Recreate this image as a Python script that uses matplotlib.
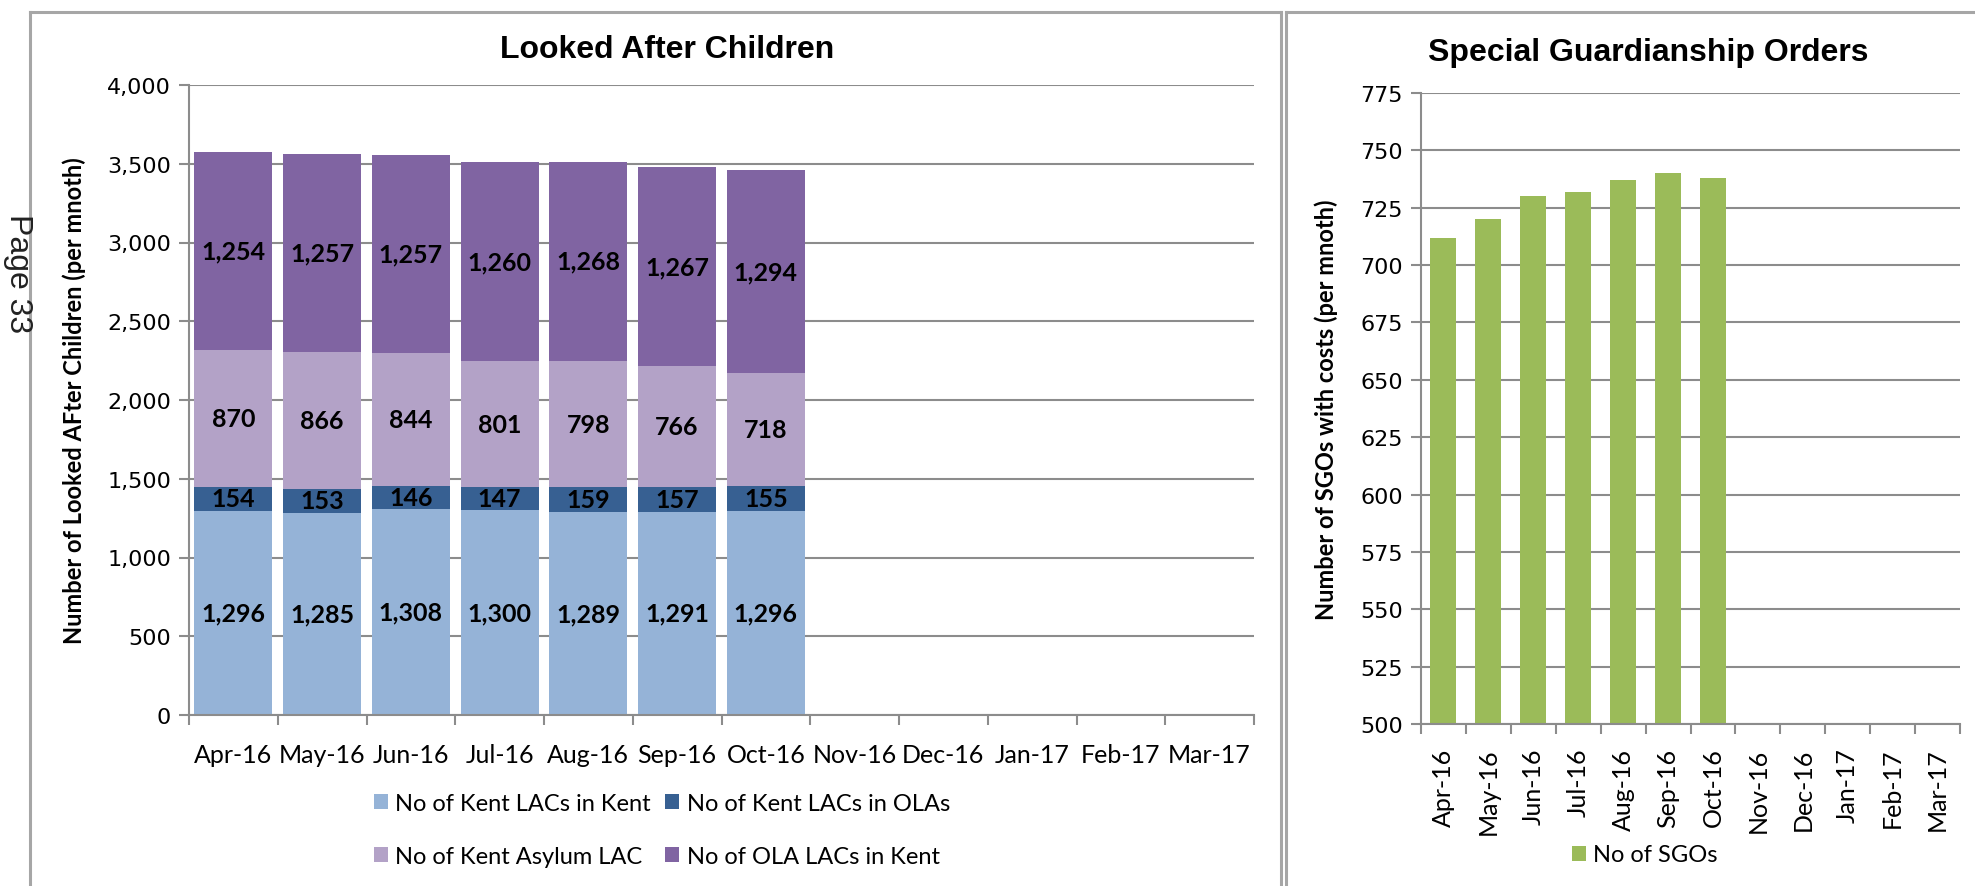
import matplotlib
matplotlib.use("Agg")
import matplotlib.pyplot as plt
from matplotlib.lines import Line2D
from matplotlib.patches import Patch
import numpy as np

# data
months = ["Apr-16", "May-16", "Jun-16", "Jul-16", "Aug-16", "Sep-16",
          "Oct-16", "Nov-16", "Dec-16", "Jan-17", "Feb-17", "Mar-17"]
kent_in_kent = [1296, 1285, 1308, 1300, 1289, 1291, 1296]
kent_in_olas = [154, 153, 146, 147, 159, 157, 155]
kent_asylum = [870, 866, 844, 801, 798, 766, 718]
ola_in_kent = [1254, 1257, 1257, 1260, 1268, 1267, 1294]
sgos = [712, 720, 730, 732, 737, 740, 738]

series_names = ["No of Kent LACs in Kent", "No of Kent LACs in OLAs",
                "No of Kent Asylum LAC", "No of OLA LACs in Kent"]
series_colors = ["#95B3D7", "#376092", "#B3A2C7", "#8064A2"]
green = "#9BBB59"
grid_c = "#8C8C8C"

plt.rcParams['font.family'] = ['Lato', 'DejaVu Sans']

W, H = 1975, 887
fig = plt.figure(figsize=(W / 100, H / 100), dpi=100)


def box(x0, y0, x1, y1):
    # pixel box (top-left origin) -> figure fraction rect
    return [x0 / W, 1 - y1 / H, (x1 - x0) / W, (y1 - y0) / H]


def style_axes(ax):
    for s in ["top", "right"]:
        ax.spines[s].set_visible(False)
    for s in ["left", "bottom"]:
        ax.spines[s].set_color(grid_c)
        ax.spines[s].set_linewidth(1.5)
    ax.yaxis.grid(True, color=grid_c, linewidth=1.5)
    ax.set_axisbelow(True)
    ax.tick_params(axis="y", color=grid_c, width=1.5, length=7, labelsize=16, pad=6)
    for lab in ax.get_yticklabels():
        lab.set_family("DejaVu Sans")
    # category boundary ticks like a spreadsheet chart
    ax.set_xticks(np.arange(-0.5, len(months)), minor=True)
    ax.tick_params(axis="x", which="minor", color=grid_c, width=1.5, length=7)
    ax.tick_params(axis="x", which="major", length=0, labelsize=18)


# ---------- Looked After Children ----------
ax1 = fig.add_axes(box(189, 86, 1254, 716))
x = np.arange(len(kent_in_kent))
bottom = np.zeros(len(x))
for vals, col in zip([kent_in_kent, kent_in_olas, kent_asylum, ola_in_kent], series_colors):
    vals = np.array(vals)
    ax1.bar(x, vals, 0.88, bottom=bottom, color=col, edgecolor="none", zorder=2)
    for xi, b, v in zip(x, bottom, vals):
        ax1.text(xi, b + v / 2, f"{v:,}", ha="center", va="center",
                 fontsize=18, fontweight="bold", color="black", zorder=3)
    bottom += vals

ax1.set_xlim(-0.5, len(months) - 0.5)
ax1.set_ylim(0, 4000)
ax1.set_yticks(np.arange(0, 4001, 500))
ax1.set_yticklabels([f"{v:,}" for v in range(0, 4001, 500)])
ax1.set_xticks(np.arange(len(months)))
ax1.set_xticklabels(months)
style_axes(ax1)
ax1.tick_params(axis="x", which="major", pad=20)
ax1.set_ylabel("Number of Looked AFter Children (per mnoth)", fontsize=17,
               fontweight="bold", labelpad=15)
fig.text(667 / W, 1 - 50 / H, "Looked After Children", ha="center", va="center",
         fontsize=23, fontweight="bold", family=["Liberation Sans", "DejaVu Sans"])

order = [0, 2, 1, 3]
handles = [Patch(facecolor=series_colors[i], edgecolor="none") for i in order]
fig.legend(handles, [series_names[i] for i in order], loc="center", ncol=2,
           bbox_to_anchor=(662 / W, 1 - 831 / H), frameon=False, fontsize=17,
           handlelength=0.6, handleheight=0.6, handletextpad=0.3,
           columnspacing=0.6, labelspacing=1.35)

# ---------- Special Guardianship Orders ----------
ax2 = fig.add_axes(box(1421, 94, 1960, 725))
ax2.bar(np.arange(len(sgos)), sgos, 0.58, color=green, edgecolor="none", zorder=2)
ax2.set_xlim(-0.5, len(months) - 0.5)
ax2.set_ylim(500, 775)
ax2.set_yticks(np.arange(500, 776, 25))
ax2.set_xticks(np.arange(len(months)))
ax2.set_xticklabels(months, rotation=90)
style_axes(ax2)
ax2.tick_params(axis="x", which="major", pad=17)
ax2.set_ylabel("Number of SGOs with costs (per mnoth)", fontsize=17,
               fontweight="bold", labelpad=16)
fig.text(1648 / W, 1 - 53 / H, "Special Guardianship Orders", ha="center", va="center",
         fontsize=23, fontweight="bold", family=["Liberation Sans", "DejaVu Sans"])
fig.legend([Patch(facecolor=green, edgecolor="none")], ["No of SGOs"],
           loc="center", bbox_to_anchor=(1645 / W, 1 - 856 / H), frameon=False,
           fontsize=17, handlelength=0.6, handleheight=0.6, handletextpad=0.3)

# ---------- panel frames and page marker ----------
frame_c = "#A6A6A6"
for xs, ys in [([30, 30], [H, 13]), ([30, 1281], [13, 13]), ([1281, 1281], [13, H]),
               ([1286, 1286], [H, 13]), ([1286, W], [13, 13])]:
    fig.add_artist(Line2D([v / W for v in xs], [1 - v / H for v in ys],
                          color=frame_c, linewidth=2.2))

fig.text(18 / W, 1 - 274 / H, "Page 33", rotation=270, ha="center", va="center",
         fontsize=23, family=["Liberation Sans", "DejaVu Sans"], color="#222222")

fig.savefig("out.png", dpi=100, facecolor="white")
